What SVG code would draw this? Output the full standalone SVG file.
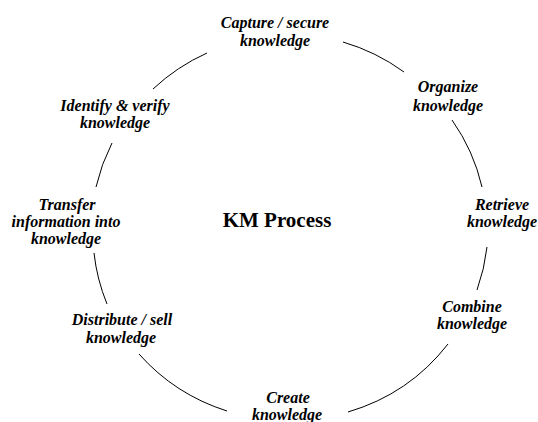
<svg xmlns="http://www.w3.org/2000/svg" width="538" height="422" viewBox="0 0 538 422">
<style>
.lbl{font-family:"Liberation Serif","Times New Roman",serif;font-size:16px;font-weight:bold;font-style:italic;fill:#000;text-anchor:middle}
.title{font-family:"Liberation Serif","Times New Roman",serif;font-size:21px;font-weight:bold;fill:#000;text-anchor:middle}
.arc{fill:none;stroke:#000;stroke-width:1}
</style>
<rect width="538" height="422" fill="#fff"/>
<g id="connectors">
<path class="arc" d="M153,89 A197,193 0 0 1 207,53"/>
<path class="arc" d="M343,42 A197,193 0 0 1 404,72"/>
<path class="arc" d="M452,120 A197,193 0 0 1 482,187"/>
<path class="arc" d="M487,247 A197,193 0 0 1 477,290"/>
<path class="arc" d="M448,344 A197,193 0 0 1 348,412"/>
<path class="arc" d="M227,411 A197,193 0 0 1 139,354"/>
<path class="arc" d="M107,304 A197,193 0 0 1 94,253"/>
<path class="arc" d="M96,187 A197,193 0 0 1 112,143"/>
</g>
<g id="capture"><text class="lbl" x="275" y="28">Capture / secure</text><text class="lbl" x="275" y="46">knowledge</text></g>
<g id="organize"><text class="lbl" x="448" y="92">Organize</text><text class="lbl" x="448" y="111">knowledge</text></g>
<g id="retrieve"><text class="lbl" x="502" y="210">Retrieve</text><text class="lbl" x="502" y="227">knowledge</text></g>
<g id="combine"><text class="lbl" x="472" y="312">Combine</text><text class="lbl" x="472" y="329">knowledge</text></g>
<g id="create"><text class="lbl" x="288" y="403">Create</text><text class="lbl" x="287" y="420">knowledge</text></g>
<g id="distribute"><text class="lbl" x="122" y="325">Distribute / sell</text><text class="lbl" x="121" y="343">knowledge</text></g>
<g id="transfer"><text class="lbl" x="67" y="210">Transfer</text><text class="lbl" x="66" y="227">information into</text><text class="lbl" x="66" y="244">knowledge</text></g>
<g id="identify"><text class="lbl" x="115" y="111">Identify &amp; verify</text><text class="lbl" x="115" y="128">knowledge</text></g>
<g id="center"><text class="title" x="277" y="227">KM Process</text></g>
</svg>
